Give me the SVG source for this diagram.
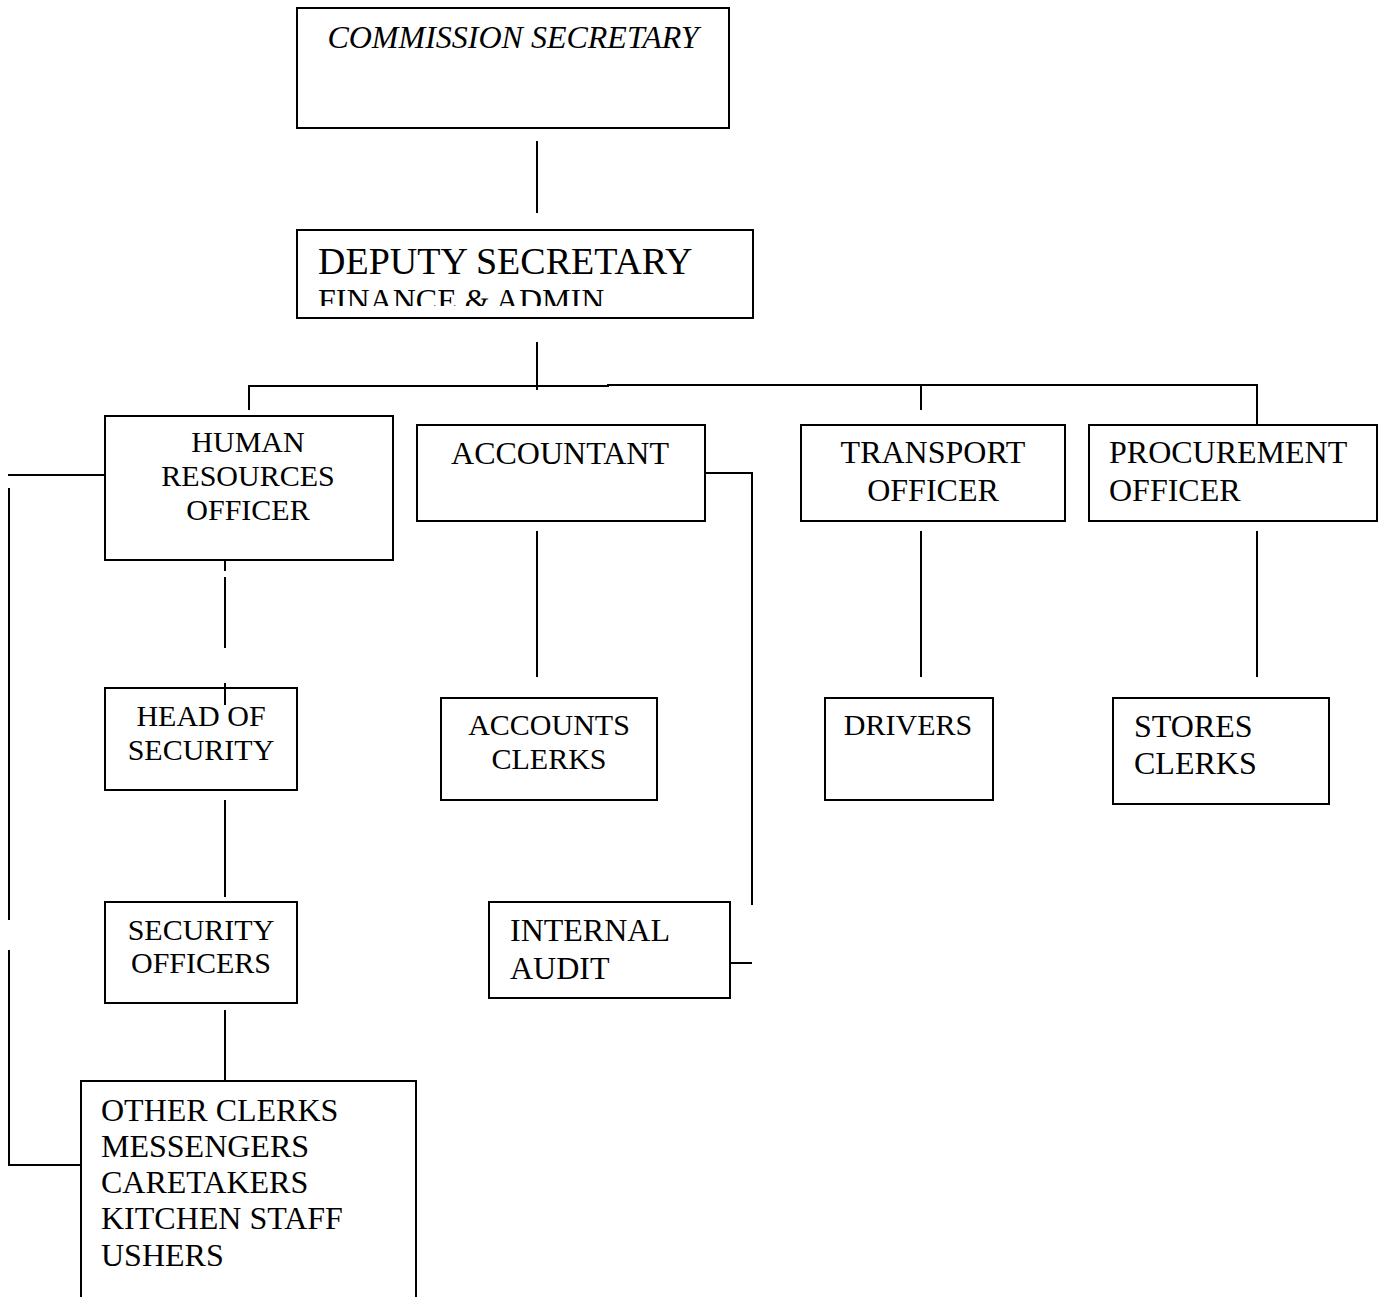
<svg xmlns="http://www.w3.org/2000/svg" width="1383" height="1297" viewBox="0 0 1383 1297">
<style>
.box{fill:#fff;stroke:#000;stroke-width:2}
.ln{fill:none;stroke:#000;stroke-width:2}
text{font-family:"Liberation Serif","Times New Roman",serif;fill:#000}
.c{text-anchor:middle}
.s29{font-size:30px}
.s31{font-size:32px}
</style>
<defs>
<clipPath id="clipFin"><rect x="300" y="280" width="450" height="26"/></clipPath>
</defs>
<rect width="1383" height="1297" fill="#fff"/>
<g id="connectors">
<line class="ln" x1="537" y1="141" x2="537" y2="213"/>
<line class="ln" x1="537" y1="342" x2="537" y2="390"/>
<polyline class="ln" points="249,410 249,386 608,386 608,385 1257,385 1257,425"/>
<line class="ln" x1="921" y1="385" x2="921" y2="410"/>
<line class="ln" x1="8" y1="475" x2="105" y2="475"/>
<line class="ln" x1="9" y1="488" x2="9" y2="920"/>
<polyline class="ln" points="9,950 9,1165 80,1165"/>
<line class="ln" x1="225" y1="560" x2="225" y2="571"/>
<line class="ln" x1="225" y1="577" x2="225" y2="648"/>
<line class="ln" x1="225" y1="800" x2="225" y2="897"/>
<line class="ln" x1="225" y1="1010" x2="225" y2="1081"/>
<line class="ln" x1="537" y1="531" x2="537" y2="677"/>
<polyline class="ln" points="705,473 752,473 752,905"/>
<line class="ln" x1="730" y1="963" x2="752" y2="963"/>
<line class="ln" x1="921" y1="531" x2="921" y2="677"/>
<line class="ln" x1="1257" y1="531" x2="1257" y2="677"/>
</g>
<g id="commission-secretary">
<rect class="box" x="297" y="8" width="432" height="120"/>
<text x="513" y="48" class="c" font-size="32" font-style="italic">COMMISSION SECRETARY</text>
</g>
<g id="deputy-secretary">
<rect class="box" x="297" y="230" width="456" height="88"/>
<text x="318" y="274" font-size="38">DEPUTY SECRETARY</text>
<text x="318" y="311" class="s31" clip-path="url(#clipFin)">FINANCE &amp; ADMIN</text>
</g>
<g id="hr-officer">
<rect class="box" x="105" y="416" width="288" height="144"/>
<text x="248" y="452" class="c s29">HUMAN</text>
<text x="248" y="486" class="c s29">RESOURCES</text>
<text x="248" y="520" class="c s29">OFFICER</text>
</g>
<g id="head-of-security">
<rect class="box" x="105" y="688" width="192" height="102"/>
<line class="ln" x1="225" y1="683" x2="225" y2="705"/>
<text x="201" y="726" class="c s29">HEAD OF</text>
<text x="201" y="760" class="c s29">SECURITY</text>
</g>
<g id="security-officers">
<rect class="box" x="105" y="902" width="192" height="101"/>
<text x="201" y="940" class="c s29">SECURITY</text>
<text x="201" y="973" class="c s29">OFFICERS</text>
</g>
<g id="other-staff">
<polyline class="box" points="81,1297 81,1081 416,1081 416,1297"/>
<text x="101" y="1121" class="s31">OTHER CLERKS</text>
<text x="101" y="1157" class="s31">MESSENGERS</text>
<text x="101" y="1193" class="s31">CARETAKERS</text>
<text x="101" y="1229" class="s31">KITCHEN STAFF</text>
<text x="101" y="1266" class="s31">USHERS</text>
</g>
<g id="accountant">
<rect class="box" x="417" y="425" width="288" height="96"/>
<text x="560" y="464" class="c s31">ACCOUNTANT</text>
</g>
<g id="accounts-clerks">
<rect class="box" x="441" y="698" width="216" height="102"/>
<text x="549" y="735" class="c s29">ACCOUNTS</text>
<text x="549" y="769" class="c s29">CLERKS</text>
</g>
<g id="internal-audit">
<rect class="box" x="489" y="902" width="241" height="96"/>
<text x="510" y="941" class="s31">INTERNAL</text>
<text x="510" y="979" class="s31">AUDIT</text>
</g>
<g id="transport-officer">
<rect class="box" x="801" y="425" width="264" height="96"/>
<text x="933" y="463" class="c s31">TRANSPORT</text>
<text x="933" y="501" class="c s31">OFFICER</text>
</g>
<g id="drivers">
<rect class="box" x="825" y="698" width="168" height="102"/>
<text x="908" y="735" class="c s29">DRIVERS</text>
</g>
<g id="procurement-officer">
<rect class="box" x="1089" y="425" width="288" height="96"/>
<text x="1109" y="463" class="s31">PROCUREMENT</text>
<text x="1109" y="501" class="s31">OFFICER</text>
</g>
<g id="stores-clerks">
<rect class="box" x="1113" y="698" width="216" height="106"/>
<text x="1134" y="737" class="s31">STORES</text>
<text x="1134" y="774" class="s31">CLERKS</text>
</g>
</svg>
